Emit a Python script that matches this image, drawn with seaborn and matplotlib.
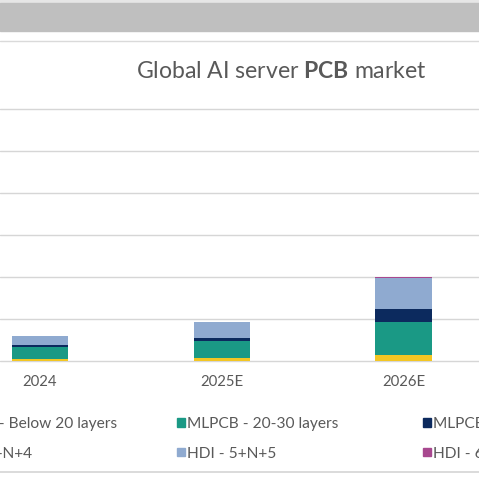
import numpy as np
import pandas as pd
import seaborn as sns
import matplotlib.pyplot as plt
from matplotlib.patches import Rectangle, Patch
from matplotlib.lines import Line2D

sns.set_style("white")
plt.rcParams["font.family"] = ["Lato", "DejaVu Sans"]
plt.rcParams["mathtext.fontset"] = "custom"
plt.rcParams["mathtext.rm"] = "Lato"
plt.rcParams["mathtext.bf"] = "Lato:bold"

# data (US$ bn)
years = ["2024", "2025E", "2026E"]
below20 = [0.11, 0.16, 0.30]
l20_30 = [0.58, 0.78, 1.58]
above30 = [0.06, 0.14, 0.58]
hdi4 = [0.0, 0.0, 0.0]
hdi5 = [0.46, 0.76, 1.50]
hdi6 = [0.0, 0.0, 0.05]

names = ["MLPCB - Below 20 layers", "MLPCB - 20-30 layers", "MLPCB - Above 30 layers",
         "HDI - 4+N+4", "HDI - 5+N+5", "HDI - 6+N+6"]
colors = ["#f3c623", "#1a9985", "#0c2a5e", "#4f7fc0", "#8faad0", "#a8488f"]
series = [below20, l20_30, above30, hdi4, hdi5, hdi6]

W, H = 479, 478
fig = plt.figure(figsize=(W / 100, H / 100), dpi=100)

def fy(y):
    return 1 - y / H

# frame bits of the slide
fig.patches.append(Rectangle((0, fy(3)), 1, 3 / H, transform=fig.transFigure,
                             color="#e6e6e6", zorder=0))
fig.patches.append(Rectangle((0, fy(31)), 1, 28 / H, transform=fig.transFigure,
                             color="#bfbfbf", zorder=0))
fig.add_artist(Line2D([0, 1], [fy(41), fy(41)], color="#dadada", lw=1))
fig.add_artist(Line2D([0, 1], [fy(472), fy(472)], color="#d4d4d4", lw=1.2))

ax = fig.add_axes([0, fy(365), 1, (365 - 105) / H])
ax.set_facecolor("none")

# stacked bars: draw running totals, tallest first
df = pd.DataFrame({"year": years})
cum = np.zeros(len(years))
tops = []
for s in series:
    cum = cum + np.array(s)
    tops.append(cum.copy())

for name, c, top in reversed(list(zip(names, colors, tops))):
    df["v"] = top
    sns.barplot(data=df, x="year", y="v", color=c, saturation=1, width=0.31,
                linewidth=0, errorbar=None, ax=ax)

ax.set_xlim(-0.22, 2.415)
ax.set_ylim(-4 * 2 / 42, 12.19)
ax.set_yticks(np.arange(0, 13, 2))
ax.set_yticklabels([])
ax.yaxis.grid(True, color="#d6d6d6", lw=1)
ax.set_axisbelow(True)
for sp in ax.spines.values():
    sp.set_visible(False)
ax.set_xlabel("")
ax.set_ylabel("")
ax.tick_params(axis="x", length=0, pad=7, labelsize=10.7, labelcolor="#595959")
ax.tick_params(axis="y", length=0)

fig.text(281 / W, fy(71), r"Global AI server $\mathbf{PCB}$ market", ha="center",
         va="center", fontsize=16.6, color="#595959")

# legend, split into three columns (left and right ones run off the canvas)
fs = 11.2
fs_px = fs * 100 / 72
hl, htp = 0.5, 0.15
r = fig.canvas.get_renderer()
tmp = fig.text(0, 0, "HDI - 4+", fontsize=fs)
w_pre = tmp.get_window_extent(r).width
tmp.remove()
x1 = 2.7 - w_pre - (hl + htp) * fs_px

handles = [Patch(color=c) for c in colors]
col_x = [x1, 177, 423]
for i, x in enumerate(col_x):
    fig.legend(handles=[handles[i], handles[i + 3]], labels=[names[i], names[i + 3]],
               loc="upper left", bbox_to_anchor=(x / W, fy(417)), frameon=False,
               fontsize=fs, labelcolor="#595959", borderpad=0, borderaxespad=0,
               handlelength=hl, handleheight=0.45, handletextpad=htp,
               labelspacing=1.0)

fig.savefig("out.png", dpi=100)
